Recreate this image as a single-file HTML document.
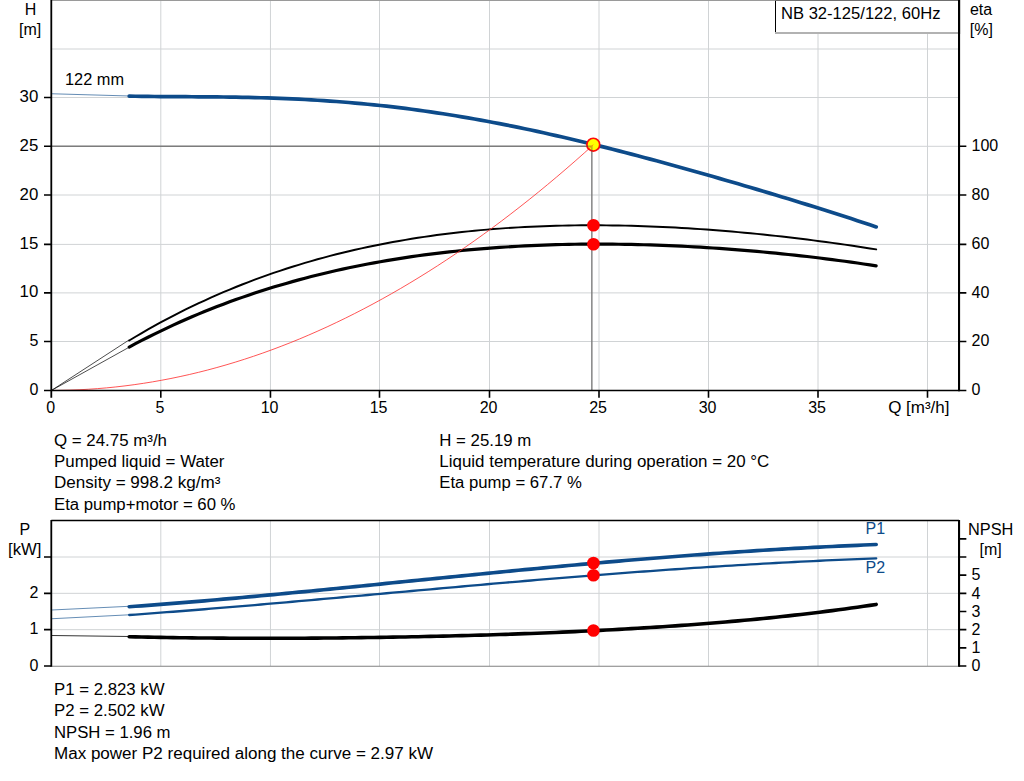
<!DOCTYPE html><html><head><meta charset="utf-8"><style>html,body{margin:0;padding:0;background:#fff}svg{display:block}text{font-family:"Liberation Sans",sans-serif;font-size:16px;fill:#000}</style></head><body>
<svg width="1024" height="781" viewBox="0 0 1024 781">
<rect width="1024" height="781" fill="#fff"/>
<path d="M160.80 0V390.40 M270.45 0V390.40 M379.50 0V390.40 M489.50 0V390.40 M599.00 0V390.40 M708.50 0V390.40 M818.00 0V390.40 M927.50 0V390.40 M51.50 341.50H959.30 M51.50 292.90H959.30 M51.50 244.40H959.30 M51.50 195.00H959.30 M51.50 146.30H959.30 M51.50 97.50H959.30 M51.50 49.00H959.30" stroke="#d0d3d5" stroke-width="1" fill="none"/>
<path d="M51.50 0.5H959.30" stroke="#9a9a9a" stroke-width="1"/>
<path d="M160.80 520.50V666.00 M270.45 520.50V666.00 M379.50 520.50V666.00 M489.50 520.50V666.00 M599.00 520.50V666.00 M708.50 520.50V666.00 M818.00 520.50V666.00 M927.50 520.50V666.00 M51.50 629.67H959.30 M51.50 593.34H959.30 M51.50 557.01H959.30" stroke="#d0d3d5" stroke-width="1" fill="none"/>
<path d="M51.50 666.20H959.30" stroke="#808080" stroke-width="1.1"/>
<path d="M51.50 146.2H591.85V390.40" stroke="#7c7c7c" stroke-width="1.4" fill="none"/>
<path d="M51.50 93.75L130 96" stroke="#0d4b8a" stroke-width="0.8" opacity="0.8"/>
<path d="M51.50 390.40L129 340M51.50 390.40L129.5 347" stroke="#000" stroke-width="0.7" fill="none"/>
<path d="M51.50 610L130 606.25M51.50 618.75L130 614.75" stroke="#0d4b8a" stroke-width="0.8" opacity="0.8" fill="none"/>
<path d="M51.50 635.5L130 636.5" stroke="#000" stroke-width="0.8"/>
<path d="M129.20 340.49 L135.48 336.72 L141.75 333.04 L148.03 329.44 L154.31 325.92 L160.59 322.48 L166.86 319.11 L173.14 315.83 L179.42 312.62 L185.70 309.48 L191.97 306.42 L198.25 303.43 L204.53 300.52 L210.81 297.68 L217.08 294.90 L223.36 292.20 L229.64 289.56 L235.91 286.99 L242.19 284.49 L248.47 282.05 L254.75 279.68 L261.02 277.37 L267.30 275.13 L273.58 272.94 L279.86 270.82 L286.13 268.76 L292.41 266.75 L298.69 264.81 L304.96 262.92 L311.24 261.08 L317.52 259.31 L323.80 257.59 L330.07 255.92 L336.35 254.30 L342.63 252.74 L348.91 251.23 L355.18 249.77 L361.46 248.36 L367.74 247.00 L374.02 245.69 L380.29 244.43 L386.57 243.21 L392.85 242.04 L399.12 240.92 L405.40 239.84 L411.68 238.80 L417.96 237.81 L424.23 236.86 L430.51 235.95 L436.79 235.09 L443.07 234.27 L449.34 233.48 L455.62 232.74 L461.90 232.03 L468.17 231.37 L474.45 230.74 L480.73 230.15 L487.01 229.60 L493.28 229.08 L499.56 228.60 L505.84 228.15 L512.12 227.74 L518.39 227.36 L524.67 227.01 L530.95 226.70 L537.23 226.42 L543.50 226.17 L549.78 225.96 L556.06 225.77 L562.33 225.62 L568.61 225.49 L574.89 225.40 L581.17 225.33 L587.44 225.29 L593.72 225.28 L600.00 225.30 L606.28 225.35 L612.55 225.42 L618.83 225.53 L625.11 225.65 L631.38 225.81 L637.66 225.99 L643.94 226.19 L650.22 226.42 L656.49 226.68 L662.77 226.95 L669.05 227.26 L675.33 227.58 L681.60 227.94 L687.88 228.31 L694.16 228.71 L700.44 229.13 L706.71 229.57 L712.99 230.03 L719.27 230.52 L725.54 231.03 L731.82 231.56 L738.10 232.11 L744.38 232.68 L750.65 233.28 L756.93 233.89 L763.21 234.53 L769.49 235.18 L775.76 235.86 L782.04 236.56 L788.32 237.28 L794.59 238.01 L800.87 238.77 L807.15 239.55 L813.43 240.35 L819.70 241.17 L825.98 242.00 L832.26 242.86 L838.54 243.74 L844.81 244.63 L851.09 245.55 L857.37 246.49 L863.65 247.44 L869.92 248.42 L876.20 249.41" stroke="#000" stroke-width="1.95" fill="none" stroke-linecap="round" stroke-linejoin="round"/>
<path d="M129.20 347.04 L135.48 343.70 L141.75 340.43 L148.03 337.23 L154.31 334.10 L160.59 331.05 L166.86 328.06 L173.14 325.15 L179.42 322.30 L185.70 319.52 L191.97 316.80 L198.25 314.15 L204.53 311.57 L210.81 309.05 L217.08 306.59 L223.36 304.19 L229.64 301.85 L235.91 299.58 L242.19 297.36 L248.47 295.20 L254.75 293.09 L261.02 291.04 L267.30 289.05 L273.58 287.11 L279.86 285.23 L286.13 283.40 L292.41 281.62 L298.69 279.89 L304.96 278.21 L311.24 276.58 L317.52 275.00 L323.80 273.47 L330.07 271.99 L336.35 270.55 L342.63 269.16 L348.91 267.81 L355.18 266.51 L361.46 265.25 L367.74 264.04 L374.02 262.86 L380.29 261.73 L386.57 260.64 L392.85 259.59 L399.12 258.58 L405.40 257.61 L411.68 256.68 L417.96 255.79 L424.23 254.93 L430.51 254.11 L436.79 253.33 L443.07 252.58 L449.34 251.87 L455.62 251.20 L461.90 250.55 L468.17 249.94 L474.45 249.37 L480.73 248.82 L487.01 248.31 L493.28 247.83 L499.56 247.38 L505.84 246.96 L512.12 246.58 L518.39 246.22 L524.67 245.89 L530.95 245.59 L537.23 245.32 L543.50 245.07 L549.78 244.86 L556.06 244.67 L562.33 244.51 L568.61 244.37 L574.89 244.27 L581.17 244.18 L587.44 244.13 L593.72 244.10 L600.00 244.09 L606.28 244.11 L612.55 244.15 L618.83 244.22 L625.11 244.31 L631.38 244.43 L637.66 244.57 L643.94 244.73 L650.22 244.91 L656.49 245.12 L662.77 245.35 L669.05 245.60 L675.33 245.88 L681.60 246.17 L687.88 246.49 L694.16 246.83 L700.44 247.19 L706.71 247.58 L712.99 247.98 L719.27 248.41 L725.54 248.85 L731.82 249.32 L738.10 249.81 L744.38 250.32 L750.65 250.85 L756.93 251.40 L763.21 251.98 L769.49 252.57 L775.76 253.18 L782.04 253.82 L788.32 254.47 L794.59 255.15 L800.87 255.84 L807.15 256.56 L813.43 257.30 L819.70 258.06 L825.98 258.84 L832.26 259.64 L838.54 260.46 L844.81 261.30 L851.09 262.17 L857.37 263.05 L863.65 263.96 L869.92 264.89 L876.20 265.84" stroke="#000" stroke-width="3.15" fill="none" stroke-linecap="round" stroke-linejoin="round"/>
<path d="M129.20 96.16 L135.48 96.26 L141.75 96.35 L148.03 96.43 L154.31 96.49 L160.59 96.54 L166.86 96.59 L173.14 96.63 L179.42 96.66 L185.70 96.70 L191.97 96.74 L198.25 96.78 L204.53 96.83 L210.81 96.88 L217.08 96.94 L223.36 97.02 L229.64 97.10 L235.91 97.20 L242.19 97.31 L248.47 97.44 L254.75 97.59 L261.02 97.75 L267.30 97.93 L273.58 98.14 L279.86 98.37 L286.13 98.61 L292.41 98.89 L298.69 99.18 L304.96 99.51 L311.24 99.85 L317.52 100.23 L323.80 100.63 L330.07 101.06 L336.35 101.51 L342.63 102.00 L348.91 102.51 L355.18 103.05 L361.46 103.63 L367.74 104.23 L374.02 104.86 L380.29 105.52 L386.57 106.21 L392.85 106.93 L399.12 107.68 L405.40 108.46 L411.68 109.27 L417.96 110.11 L424.23 110.98 L430.51 111.88 L436.79 112.81 L443.07 113.77 L449.34 114.76 L455.62 115.78 L461.90 116.82 L468.17 117.89 L474.45 118.99 L480.73 120.12 L487.01 121.27 L493.28 122.45 L499.56 123.66 L505.84 124.89 L512.12 126.15 L518.39 127.43 L524.67 128.73 L530.95 130.06 L537.23 131.42 L543.50 132.79 L549.78 134.19 L556.06 135.61 L562.33 137.05 L568.61 138.51 L574.89 139.99 L581.17 141.48 L587.44 143.00 L593.72 144.54 L600.00 146.09 L606.28 147.66 L612.55 149.25 L618.83 150.86 L625.11 152.48 L631.38 154.11 L637.66 155.76 L643.94 157.42 L650.22 159.10 L656.49 160.79 L662.77 162.50 L669.05 164.21 L675.33 165.94 L681.60 167.68 L687.88 169.43 L694.16 171.20 L700.44 172.97 L706.71 174.75 L712.99 176.55 L719.27 178.35 L725.54 180.17 L731.82 181.99 L738.10 183.82 L744.38 185.67 L750.65 187.52 L756.93 189.38 L763.21 191.26 L769.49 193.14 L775.76 195.03 L782.04 196.93 L788.32 198.84 L794.59 200.76 L800.87 202.70 L807.15 204.64 L813.43 206.60 L819.70 208.56 L825.98 210.54 L832.26 212.54 L838.54 214.54 L844.81 216.56 L851.09 218.60 L857.37 220.65 L863.65 222.72 L869.92 224.80 L876.20 226.91" stroke="#0d4b8a" stroke-width="3.7" fill="none" stroke-linecap="round" stroke-linejoin="round"/>
<path d="M129.20 614.99 L135.48 614.55 L141.75 614.09 L148.03 613.63 L154.31 613.16 L160.59 612.69 L166.86 612.21 L173.14 611.73 L179.42 611.24 L185.70 610.75 L191.97 610.25 L198.25 609.74 L204.53 609.24 L210.81 608.72 L217.08 608.21 L223.36 607.69 L229.64 607.16 L235.91 606.63 L242.19 606.10 L248.47 605.57 L254.75 605.03 L261.02 604.49 L267.30 603.94 L273.58 603.40 L279.86 602.85 L286.13 602.29 L292.41 601.74 L298.69 601.18 L304.96 600.63 L311.24 600.07 L317.52 599.51 L323.80 598.94 L330.07 598.38 L336.35 597.81 L342.63 597.25 L348.91 596.68 L355.18 596.11 L361.46 595.55 L367.74 594.98 L374.02 594.41 L380.29 593.84 L386.57 593.27 L392.85 592.70 L399.12 592.13 L405.40 591.56 L411.68 591.00 L417.96 590.43 L424.23 589.86 L430.51 589.30 L436.79 588.73 L443.07 588.17 L449.34 587.61 L455.62 587.05 L461.90 586.49 L468.17 585.93 L474.45 585.38 L480.73 584.82 L487.01 584.27 L493.28 583.72 L499.56 583.18 L505.84 582.63 L512.12 582.09 L518.39 581.55 L524.67 581.02 L530.95 580.48 L537.23 579.95 L543.50 579.43 L549.78 578.90 L556.06 578.38 L562.33 577.87 L568.61 577.35 L574.89 576.84 L581.17 576.34 L587.44 575.83 L593.72 575.33 L600.00 574.84 L606.28 574.35 L612.55 573.86 L618.83 573.38 L625.11 572.90 L631.38 572.43 L637.66 571.96 L643.94 571.50 L650.22 571.04 L656.49 570.59 L662.77 570.14 L669.05 569.69 L675.33 569.25 L681.60 568.82 L687.88 568.39 L694.16 567.97 L700.44 567.55 L706.71 567.14 L712.99 566.73 L719.27 566.33 L725.54 565.94 L731.82 565.55 L738.10 565.17 L744.38 564.79 L750.65 564.42 L756.93 564.05 L763.21 563.69 L769.49 563.34 L775.76 563.00 L782.04 562.66 L788.32 562.32 L794.59 561.99 L800.87 561.67 L807.15 561.36 L813.43 561.05 L819.70 560.75 L825.98 560.46 L832.26 560.17 L838.54 559.89 L844.81 559.62 L851.09 559.35 L857.37 559.09 L863.65 558.84 L869.92 558.60 L876.20 558.36" stroke="#0d4b8a" stroke-width="2.3" fill="none" stroke-linecap="round" stroke-linejoin="round"/>
<path d="M129.20 606.71 L135.48 606.27 L141.75 605.81 L148.03 605.35 L154.31 604.88 L160.59 604.40 L166.86 603.91 L173.14 603.42 L179.42 602.91 L185.70 602.40 L191.97 601.88 L198.25 601.36 L204.53 600.82 L210.81 600.29 L217.08 599.74 L223.36 599.19 L229.64 598.63 L235.91 598.07 L242.19 597.50 L248.47 596.93 L254.75 596.35 L261.02 595.77 L267.30 595.18 L273.58 594.59 L279.86 593.99 L286.13 593.39 L292.41 592.79 L298.69 592.18 L304.96 591.57 L311.24 590.96 L317.52 590.34 L323.80 589.72 L330.07 589.10 L336.35 588.48 L342.63 587.85 L348.91 587.22 L355.18 586.60 L361.46 585.97 L367.74 585.33 L374.02 584.70 L380.29 584.07 L386.57 583.43 L392.85 582.80 L399.12 582.17 L405.40 581.53 L411.68 580.90 L417.96 580.26 L424.23 579.63 L430.51 579.00 L436.79 578.36 L443.07 577.73 L449.34 577.10 L455.62 576.47 L461.90 575.84 L468.17 575.22 L474.45 574.59 L480.73 573.97 L487.01 573.35 L493.28 572.73 L499.56 572.12 L505.84 571.51 L512.12 570.90 L518.39 570.29 L524.67 569.69 L530.95 569.08 L537.23 568.49 L543.50 567.89 L549.78 567.30 L556.06 566.72 L562.33 566.13 L568.61 565.55 L574.89 564.98 L581.17 564.41 L587.44 563.84 L593.72 563.28 L600.00 562.73 L606.28 562.17 L612.55 561.63 L618.83 561.09 L625.11 560.55 L631.38 560.02 L637.66 559.49 L643.94 558.97 L650.22 558.46 L656.49 557.95 L662.77 557.45 L669.05 556.95 L675.33 556.46 L681.60 555.97 L687.88 555.50 L694.16 555.03 L700.44 554.56 L706.71 554.10 L712.99 553.65 L719.27 553.20 L725.54 552.77 L731.82 552.34 L738.10 551.91 L744.38 551.49 L750.65 551.08 L756.93 550.68 L763.21 550.29 L769.49 549.90 L775.76 549.52 L782.04 549.15 L788.32 548.78 L794.59 548.43 L800.87 548.08 L807.15 547.74 L813.43 547.41 L819.70 547.08 L825.98 546.77 L832.26 546.46 L838.54 546.16 L844.81 545.87 L851.09 545.58 L857.37 545.31 L863.65 545.04 L869.92 544.79 L876.20 544.54" stroke="#0d4b8a" stroke-width="3.65" fill="none" stroke-linecap="round" stroke-linejoin="round"/>
<path d="M129.20 636.71 L135.48 636.87 L141.75 637.01 L148.03 637.15 L154.31 637.27 L160.59 637.39 L166.86 637.50 L173.14 637.61 L179.42 637.70 L185.70 637.79 L191.97 637.87 L198.25 637.94 L204.53 638.01 L210.81 638.07 L217.08 638.12 L223.36 638.16 L229.64 638.20 L235.91 638.23 L242.19 638.26 L248.47 638.28 L254.75 638.29 L261.02 638.30 L267.30 638.30 L273.58 638.30 L279.86 638.29 L286.13 638.27 L292.41 638.25 L298.69 638.22 L304.96 638.19 L311.24 638.15 L317.52 638.10 L323.80 638.06 L330.07 638.00 L336.35 637.94 L342.63 637.88 L348.91 637.81 L355.18 637.73 L361.46 637.65 L367.74 637.56 L374.02 637.47 L380.29 637.38 L386.57 637.28 L392.85 637.17 L399.12 637.06 L405.40 636.94 L411.68 636.82 L417.96 636.69 L424.23 636.56 L430.51 636.42 L436.79 636.28 L443.07 636.13 L449.34 635.98 L455.62 635.82 L461.90 635.65 L468.17 635.48 L474.45 635.30 L480.73 635.12 L487.01 634.93 L493.28 634.74 L499.56 634.54 L505.84 634.33 L512.12 634.12 L518.39 633.90 L524.67 633.67 L530.95 633.44 L537.23 633.20 L543.50 632.95 L549.78 632.70 L556.06 632.43 L562.33 632.17 L568.61 631.89 L574.89 631.60 L581.17 631.31 L587.44 631.01 L593.72 630.70 L600.00 630.39 L606.28 630.06 L612.55 629.73 L618.83 629.39 L625.11 629.03 L631.38 628.67 L637.66 628.30 L643.94 627.92 L650.22 627.53 L656.49 627.13 L662.77 626.71 L669.05 626.29 L675.33 625.86 L681.60 625.41 L687.88 624.95 L694.16 624.49 L700.44 624.00 L706.71 623.51 L712.99 623.01 L719.27 622.49 L725.54 621.96 L731.82 621.41 L738.10 620.85 L744.38 620.28 L750.65 619.69 L756.93 619.09 L763.21 618.47 L769.49 617.84 L775.76 617.19 L782.04 616.53 L788.32 615.85 L794.59 615.15 L800.87 614.44 L807.15 613.71 L813.43 612.96 L819.70 612.19 L825.98 611.41 L832.26 610.60 L838.54 609.78 L844.81 608.94 L851.09 608.07 L857.37 607.19 L863.65 606.29 L869.92 605.36 L876.20 604.42" stroke="#000" stroke-width="3.6" fill="none" stroke-linecap="round" stroke-linejoin="round"/>
<path d="M51.50 390.50 L60.69 390.33 L69.87 390.12 L79.06 389.76 L88.25 389.27 L97.43 388.64 L106.62 387.86 L115.81 386.94 L124.99 385.88 L134.18 384.68 L143.37 383.34 L152.56 381.86 L161.74 380.23 L170.93 378.47 L180.12 376.56 L189.30 374.52 L198.49 372.33 L207.68 370.00 L216.86 367.53 L226.05 364.92 L235.24 362.16 L244.42 359.27 L253.61 356.23 L262.80 353.06 L271.98 349.74 L281.17 346.28 L290.36 342.68 L299.55 338.94 L308.73 335.06 L317.92 331.03 L327.11 326.87 L336.29 322.56 L345.48 318.11 L354.67 313.53 L363.85 308.80 L373.04 303.93 L382.23 298.91 L391.41 293.76 L400.60 288.47 L409.79 283.03 L418.97 277.45 L428.16 271.74 L437.35 265.88 L446.54 259.88 L455.72 253.74 L464.91 247.45 L474.10 241.03 L483.28 234.46 L492.47 227.76 L501.66 220.91 L510.84 213.92 L520.03 206.79 L529.22 199.52 L538.40 192.11 L547.59 184.56 L556.78 176.86 L565.96 169.03 L575.15 161.05 L584.34 152.93 L593.52 144.67" stroke="#ff2a2a" stroke-width="0.8" fill="none"/>
<path d="M44.00 390.45H966.35 M44.00 341.50H51.30 M44.00 292.90H51.30 M44.00 244.40H51.30 M44.00 195.00H51.30 M44.00 146.30H51.30 M44.00 97.50H51.30 M160.80 390.45V397.75 M270.45 390.45V397.75 M379.50 390.45V397.75 M489.50 390.45V397.75 M599.00 390.45V397.75 M708.50 390.45V397.75 M818.00 390.45V397.75 M927.50 390.45V397.75 M959.05 341.50H966.35 M959.05 292.90H966.35 M959.05 244.40H966.35 M959.05 195.00H966.35 M959.05 146.30H966.35 M51.30 520.50H959.05 M44.00 666.00H51.30 M44.00 629.67H51.30 M44.00 593.34H51.30 M44.00 557.01H51.30 M959.05 666.00H966.35 M959.05 647.84H966.35 M959.05 629.67H966.35 M959.05 611.50H966.35 M959.05 593.34H966.35 M959.05 575.17H966.35 M959.05 557.01H966.35 M959.05 538.85H966.35" stroke="#000" stroke-width="1.6" fill="none"/>
<path d="M51.30 0V397.75 M51.30 520.00V666.70" stroke="#000" stroke-width="1.8" fill="none"/>
<path d="M959.05 0V391.15 M959.05 520.00V666.80" stroke="#000" stroke-width="2.1" fill="none"/>
<rect x="775" y="0" width="184.05" height="33" fill="#fff"/>
<path d="M775.5 0V34" stroke="#000" stroke-width="1.05"/>
<path d="M775 33H959.05" stroke="#b2b2b2" stroke-width="2"/>
<path d="M775 0.5H959.05" stroke="#707070" stroke-width="1"/>
<path d="M959.05 0V34" stroke="#000" stroke-width="2.1"/>
<circle cx="593.45" cy="225.25" r="6.3" fill="#ff0000"/>
<circle cx="593.45" cy="244.25" r="6.3" fill="#ff0000"/>
<circle cx="593.45" cy="563.00" r="6.3" fill="#ff0000"/>
<circle cx="593.45" cy="575.25" r="6.3" fill="#ff0000"/>
<circle cx="593.45" cy="630.50" r="6.3" fill="#ff0000"/>
<clipPath id="dc"><circle cx="593.3" cy="144.65" r="7.2"/></clipPath>
<circle cx="593.3" cy="144.65" r="6.4" fill="#ffff00" stroke="#ff0a0a" stroke-width="1.7"/>
<g clip-path="url(#dc)" opacity="0.42"><path d="M580 146.2H591.85V160" stroke="#444" stroke-width="1.4" fill="none"/><path d="M581.48 155.47L593.3 144.65" stroke="#ff0000" stroke-width="1"/></g>
<text x="30.60" y="15.30" text-anchor="middle">H</text>
<text x="30.20" y="34.50" text-anchor="middle">[m]</text>
<text x="38.30" y="395.00" text-anchor="end">0</text>
<text x="38.30" y="346.00" text-anchor="end">5</text>
<text x="38.30" y="297.40" text-anchor="end" textLength="18.7" lengthAdjust="spacingAndGlyphs">10</text>
<text x="38.30" y="248.90" text-anchor="end" textLength="18.7" lengthAdjust="spacingAndGlyphs">15</text>
<text x="38.30" y="199.50" text-anchor="end" textLength="18.7" lengthAdjust="spacingAndGlyphs">20</text>
<text x="38.30" y="150.80" text-anchor="end" textLength="18.7" lengthAdjust="spacingAndGlyphs">25</text>
<text x="38.30" y="102.00" text-anchor="end" textLength="18.7" lengthAdjust="spacingAndGlyphs">30</text>
<text x="50.60" y="413.30" text-anchor="middle">0</text>
<text x="159.90" y="413.30" text-anchor="middle">5</text>
<text x="269.55" y="413.30" text-anchor="middle">10</text>
<text x="378.60" y="413.30" text-anchor="middle">15</text>
<text x="488.60" y="413.30" text-anchor="middle">20</text>
<text x="598.10" y="413.30" text-anchor="middle">25</text>
<text x="707.60" y="413.30" text-anchor="middle">30</text>
<text x="817.10" y="413.30" text-anchor="middle">35</text>
<text x="65.00" y="85.00" textLength="59.0" lengthAdjust="spacingAndGlyphs">122 mm</text>
<text x="888.20" y="413.40" textLength="61.3" lengthAdjust="spacingAndGlyphs">Q [m³/h]</text>
<text x="781.00" y="18.50" textLength="159.5" lengthAdjust="spacingAndGlyphs">NB 32-125/122, 60Hz</text>
<text x="981.00" y="15.20" text-anchor="middle">eta</text>
<text x="981.30" y="35.40" text-anchor="middle">[%]</text>
<text x="971.50" y="395.30">0</text>
<text x="971.50" y="346.30">20</text>
<text x="971.50" y="297.70">40</text>
<text x="971.50" y="249.20">60</text>
<text x="971.50" y="199.80">80</text>
<text x="971.50" y="151.10">100</text>
<text x="54.00" y="445.50" textLength="113.0" lengthAdjust="spacingAndGlyphs">Q = 24.75 m³/h</text>
<text x="54.00" y="466.80" textLength="170.5" lengthAdjust="spacingAndGlyphs">Pumped liquid = Water</text>
<text x="54.00" y="488.20" textLength="166.5" lengthAdjust="spacingAndGlyphs">Density = 998.2 kg/m³</text>
<text x="54.00" y="509.50" textLength="181.5" lengthAdjust="spacingAndGlyphs">Eta pump+motor = 60 %</text>
<text x="439.30" y="445.50" textLength="92.0" lengthAdjust="spacingAndGlyphs">H = 25.19 m</text>
<text x="439.30" y="466.80" textLength="330.0" lengthAdjust="spacingAndGlyphs">Liquid temperature during operation = 20 °C</text>
<text x="439.30" y="488.20" textLength="142.5" lengthAdjust="spacingAndGlyphs">Eta pump = 67.7 %</text>
<text x="24.80" y="535.30" text-anchor="middle">P</text>
<text x="24.70" y="555.00" text-anchor="middle" textLength="33.4" lengthAdjust="spacingAndGlyphs">[kW]</text>
<text x="38.30" y="670.50" text-anchor="end">0</text>
<text x="38.30" y="634.17" text-anchor="end">1</text>
<text x="38.30" y="597.84" text-anchor="end">2</text>
<text x="990.70" y="534.50" text-anchor="middle" textLength="45.4" lengthAdjust="spacingAndGlyphs">NPSH</text>
<text x="990.60" y="555.30" text-anchor="middle">[m]</text>
<text x="971.50" y="671.20">0</text>
<text x="971.50" y="653.04">1</text>
<text x="971.50" y="634.87">2</text>
<text x="971.50" y="616.71">3</text>
<text x="971.50" y="598.54">4</text>
<text x="971.50" y="580.38">5</text>
<text x="865.50" y="533.80" style="fill:#0d4b8a">P1</text>
<text x="865.50" y="573.00" style="fill:#0d4b8a">P2</text>
<text x="54.00" y="694.50" textLength="110.5" lengthAdjust="spacingAndGlyphs">P1 = 2.823 kW</text>
<text x="54.00" y="715.80" textLength="110.5" lengthAdjust="spacingAndGlyphs">P2 = 2.502 kW</text>
<text x="54.00" y="737.60" textLength="116.5" lengthAdjust="spacingAndGlyphs">NPSH = 1.96 m</text>
<text x="54.00" y="758.50" textLength="379.0" lengthAdjust="spacingAndGlyphs">Max power P2 required along the curve = 2.97 kW</text>
</svg></body></html>
